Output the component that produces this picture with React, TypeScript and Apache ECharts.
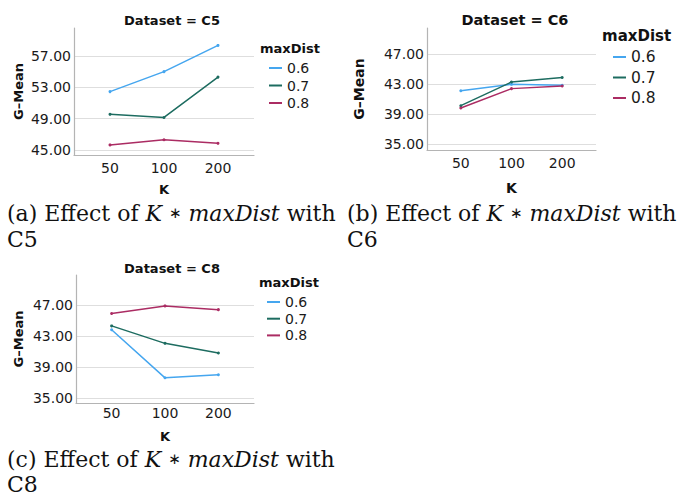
import React, { useEffect, useRef } from 'react';
import * as echarts from 'echarts';

const kLabels = ['50', '100', '200'];
const maxDistLevels = ['0.6', '0.7', '0.8'];
const lineColors = ['#45a6ef', '#1d6c60', '#ab2c63'];

// Dataset C5
const c5G06 = [52.45, 55.0, 58.35];
const c5G07 = [49.55, 49.15, 54.3];
const c5G08 = [45.65, 46.3, 45.85];
// Dataset C6
const c6G06 = [42.12, 42.97, 42.85];
const c6G07 = [40.12, 43.28, 43.88];
const c6G08 = [39.82, 42.4, 42.75];
// Dataset C8
const c8G06 = [43.8, 37.6, 38.0];
const c8G07 = [44.3, 42.05, 40.8];
const c8G08 = [45.9, 46.88, 46.4];

const c5Ticks = [45, 49, 53, 57];
const c6Ticks = [35, 39, 43, 47];
const c8Ticks = [35, 39, 43, 47];

const panelTitles = ['Dataset = C5', 'Dataset = C6', 'Dataset = C8'];
const captionTags = ['(a)', '(b)', '(c)'];
const captionSets = ['C5', 'C6', 'C8'];

const SANS = 'DejaVu Sans';
const SERIF = 'DejaVu Serif';

export default function App() {
  const ref = useRef<HTMLDivElement>(null);
  useEffect(() => {
    if (!ref.current) return;
    const chart = echarts.init(ref.current, undefined, { renderer: 'svg' });

    const panels = [
      { data: [c5G06, c5G07, c5G08], ticks: c5Ticks, range: [44.36, 60.57],
        grid: { left: 74, top: 28, width: 180, height: 127 },
        yGap: 49, xLabelMargin: 6, xNameGap: 28, fs: 1 },
      { data: [c6G06, c6G07, c6G08], ticks: c6Ticks, range: [34.2, 50.5],
        grid: { left: 427, top: 28, width: 169, height: 122 },
        yGap: 61, xLabelMargin: 6, xNameGap: 31, fs: 1.1 },
      { data: [c8G06, c8G07, c8G08], ticks: c8Ticks, range: [34.35, 50.87],
        grid: { left: 76, top: 275, width: 178, height: 128 },
        yGap: 51, xLabelMargin: 3, xNameGap: 27, fs: 1 },
    ];

    const grid = panels.map((p) => ({ ...p.grid, containLabel: false }));
    const xAxis = panels.map((p, i) => ({
      type: 'value',
      gridIndex: i,
      min: -0.667,
      max: 2.667,
      axisLine: { show: true, onZero: false, lineStyle: { color: '#b4b4b4', width: 1.2 } },
      axisTick: { show: false, customValues: [0, 1, 2] },
      splitLine: { show: false },
      axisLabel: {
        customValues: [0, 1, 2],
        formatter: (v: number) => kLabels[Math.round(v)],
        fontFamily: SANS,
        fontSize: 14,
        color: '#1a1a1a',
        margin: p.xLabelMargin,
      },
      name: 'K',
      nameLocation: 'middle',
      nameGap: p.xNameGap,
      nameTextStyle: { fontFamily: SANS, fontWeight: 'bold', fontSize: Math.round(13 * p.fs), color: '#111' },
    }));
    const yAxis = panels.map((p, i) => ({
      type: 'value',
      gridIndex: i,
      min: p.range[0],
      max: p.range[1],
      axisLine: { show: true, onZero: false, lineStyle: { color: '#b4b4b4', width: 1.2 } },
      axisTick: { show: false, customValues: p.ticks },
      splitLine: { show: true, lineStyle: { color: '#dedede', width: 1 } },
      axisLabel: {
        customValues: p.ticks,
        formatter: (v: number) => v.toFixed(2),
        fontFamily: SANS,
        fontSize: 14,
        color: '#1a1a1a',
        margin: 3,
      },
      name: 'G\u2013Mean',
      nameLocation: 'middle',
      nameGap: p.yGap,
      nameTextStyle: { fontFamily: SANS, fontWeight: 'bold', fontSize: Math.round(13 * p.fs), color: '#111' },
    }));

    const series: any[] = [];
    panels.forEach((p, pi) => {
      p.data.forEach((vals, li) => {
        series.push({
          type: 'line',
          name: maxDistLevels[li],
          xAxisIndex: pi,
          yAxisIndex: pi,
          data: kLabels.map((_, ki) => [ki, vals[ki]]),
          symbol: 'circle',
          symbolSize: 3,
          showSymbol: true,
          itemStyle: { color: lineColors[li] },
          lineStyle: { color: lineColors[li], width: 1.5 },
          emphasis: { disabled: true },
        });
      });
    });

    const legendPos = [
      { left: 269, top: 60, gap: 1.5, fs: 14 },
      { left: 613, top: 49, gap: 4.5, fs: 15.5 },
      { left: 267, top: 294, gap: 0.7, fs: 14 },
    ];
    const legend = legendPos.map((l) => ({
      orient: 'vertical',
      left: l.left,
      top: l.top,
      padding: 0,
      itemWidth: 13,
      itemHeight: 2,
      itemGap: l.gap,
      icon: 'rect',
      data: maxDistLevels,
      selectedMode: false,
      textStyle: { fontFamily: SANS, fontSize: l.fs, color: '#1a1a1a', lineHeight: 16 },
    }));

    const titlePos = [
      { x: 172, y: 20, fs: 13 },
      { x: 515, y: 20, fs: 14.5 },
      { x: 172, y: 268, fs: 13 },
    ];
    const legendTitlePos = [
      { x: 260, y: 48, fs: 13 },
      { x: 602, y: 36, fs: 15 },
      { x: 259, y: 282, fs: 13 },
    ];
    const captionPos = [
      { x: 7, y1: 213, y2: 239 },
      { x: 347, y1: 213, y2: 239 },
      { x: 7, y1: 459, y2: 484 },
    ];

    const graphic: any[] = [];
    titlePos.forEach((t, i) => {
      graphic.push({
        type: 'text', x: t.x, y: t.y,
        style: { text: panelTitles[i], fontFamily: SANS, fontWeight: 'bold', fontSize: t.fs, fill: '#111', align: 'center', verticalAlign: 'middle' },
      });
    });
    legendTitlePos.forEach((t) => {
      graphic.push({
        type: 'text', x: t.x, y: t.y,
        style: { text: 'maxDist', fontFamily: SANS, fontWeight: 'bold', fontSize: t.fs, fill: '#111', align: 'left', verticalAlign: 'middle' },
      });
    });
    captionPos.forEach((c, i) => {
      graphic.push({
        type: 'text', x: c.x, y: c.y1,
        style: {
          text: captionTags[i] + ' Effect of {i|K} {o|\u2217} {i|maxDist} with',
          fontFamily: SERIF, fontSize: 22, fill: '#111',
          align: 'left', verticalAlign: 'middle',
          rich: {
            i: { fontFamily: SERIF, fontStyle: 'italic', fontSize: 22, fill: '#111' },
            o: { fontFamily: SANS, fontSize: 15, fill: '#111' },
          },
        },
      });
      graphic.push({
        type: 'text', x: c.x, y: c.y2,
        style: {
          text: captionSets[i],
          fontFamily: SERIF, fontSize: 22, fill: '#111',
          align: 'left', verticalAlign: 'middle',
        },
      });
    });

    chart.setOption({
      animation: false,
      backgroundColor: '#ffffff',
      grid,
      xAxis,
      yAxis,
      legend,
      series,
      graphic,
    });
    return () => chart.dispose();
  }, []);
  return <div ref={ref} style={{ position: 'fixed', left: 0, top: 0, width: 680, height: 497, background: '#fff' }} />;
}
